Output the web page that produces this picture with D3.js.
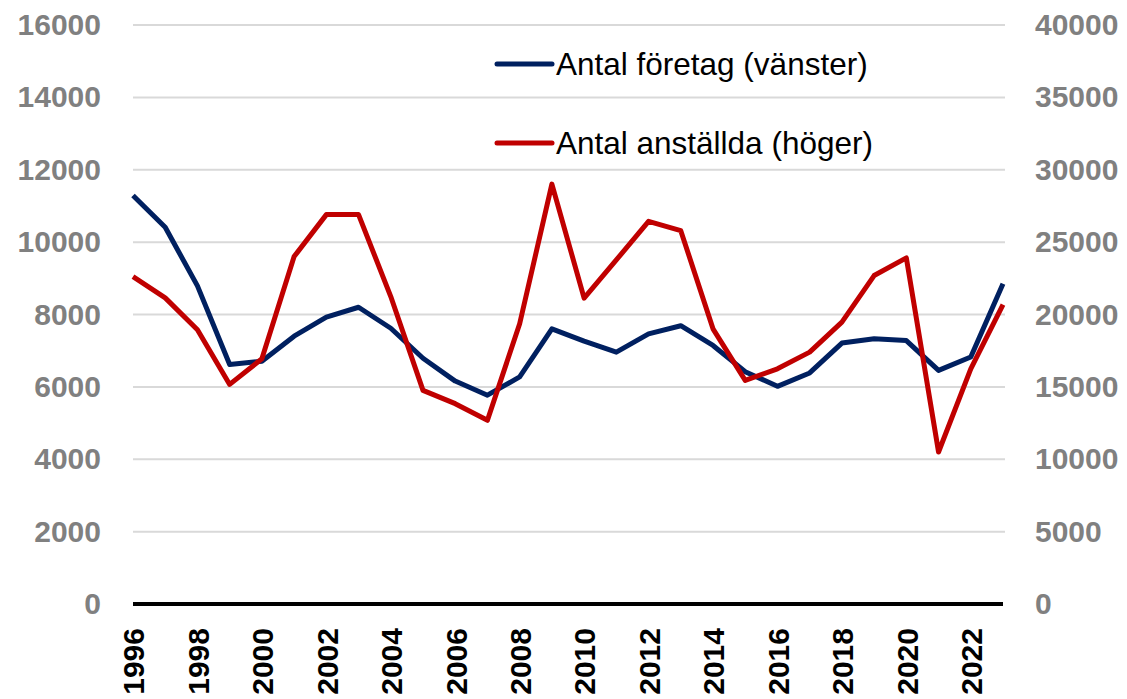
<!DOCTYPE html>
<html>
<head>
<meta charset="utf-8">
<script src="https://cdnjs.cloudflare.com/ajax/libs/d3/7.8.5/d3.min.js"></script>
<style>
  body { margin: 0; background: #fff; }
  text { font-family: "Liberation Sans", Arial, sans-serif; }
</style>
</head>
<body>
<div id="chart"></div>
<script>
var years = [1996, 1997, 1998, 1999, 2000, 2001, 2002, 2003, 2004, 2005, 2006, 2007, 2008, 2009,
    2010, 2011, 2012, 2013, 2014, 2015, 2016, 2017, 2018, 2019, 2020, 2021, 2022, 2023];
// Antal företag (vänster axel)
var companies = [11290, 10410, 8790, 6620, 6710, 7400, 7925, 8200, 7620, 6790, 6160, 5770, 6275, 7605,
    7265, 6960, 7465, 7690, 7145, 6420, 6015, 6385, 7210, 7330, 7280, 6455, 6825, 8850];
// Antal anställda (höger axel)
var employees = [22620, 21150, 18940, 15170, 16940, 24000, 26900, 26900, 21240, 14760, 13840, 12690, 19360, 29010,
    21130, 23770, 26440, 25790, 19010, 15450, 16250, 17400, 19470, 22690, 23910, 10500, 16250, 20690];
var leftTicks = [0, 2000, 4000, 6000, 8000, 10000, 12000, 14000, 16000];
var rightTicks = [0, 5000, 10000, 15000, 20000, 25000, 30000, 35000, 40000];
var yearTicks = years.filter(function(d) { return d % 2 === 0; });
var seriesNames = ["Antal företag (vänster)", "Antal anställda (höger)"];
var seriesColors = ["#002060", "#c00000"];

var w = 1127;
var h = 699;
var plotLeft = 133, plotRight = 1003, plotTop = 25, plotBottom = 604;

var svg = d3.select("#chart")
    .append("svg")
    .attr("width", w)
    .attr("height", h);

var xScale = d3.scalePoint().domain(years).range([plotLeft, plotRight]);
var yLeft = d3.scaleLinear().domain([0, 16000]).range([plotBottom, plotTop]);
var yRight = d3.scaleLinear().domain([0, 40000]).range([plotBottom, plotTop]);

// gridlines
svg.append("g")
    .selectAll("line")
    .data(leftTicks.slice(1))
    .enter().append("line")
    .attr("x1", plotLeft)
    .attr("x2", plotRight + 2)
    .attr("y1", function(d) { return yLeft(d); })
    .attr("y2", function(d) { return yLeft(d); })
    .attr("stroke", "#d9d9d9")
    .attr("stroke-width", 2);

function styleTicks(sel, color) {
    sel.selectAll("text")
        .attr("fill", color)
        .style("font-size", "30px")
        .style("font-weight", "bold")
        .style("font-family", "'Liberation Sans', Arial, sans-serif");
}

// left axis
var gl = svg.append("g")
    .attr("transform", "translate(101,0)")
    .call(d3.axisLeft(yLeft).tickValues(leftTicks).tickSize(0).tickPadding(0).tickFormat(d3.format("d")));
gl.select(".domain").remove();
styleTicks(gl, "#808080");

// right axis
var gr = svg.append("g")
    .attr("transform", "translate(1035,0)")
    .call(d3.axisRight(yRight).tickValues(rightTicks).tickSize(0).tickPadding(0).tickFormat(d3.format("d")));
gr.select(".domain").remove();
styleTicks(gr, "#808080");

// x axis
var gx = svg.append("g")
    .attr("transform", "translate(0," + plotBottom + ")")
    .call(d3.axisBottom(xScale).tickValues(yearTicks).tickSize(0));
gx.select(".domain").remove();
styleTicks(gx, "#000");
gx.selectAll("text")
    .attr("transform", "rotate(-90)")
    .attr("text-anchor", "end")
    .attr("x", -24)
    .attr("y", 0)
    .attr("dy", "0.36em");

svg.append("line")
    .attr("x1", plotLeft)
    .attr("x2", plotRight)
    .attr("y1", plotBottom)
    .attr("y2", plotBottom)
    .attr("stroke", "#000")
    .attr("stroke-width", 4);

// lines
var lineLeft = d3.line()
    .x(function(d, i) { return xScale(years[i]); })
    .y(function(d) { return yLeft(d); });
var lineRight = d3.line()
    .x(function(d, i) { return xScale(years[i]); })
    .y(function(d) { return yRight(d); });

svg.append("path")
    .datum(companies)
    .attr("d", lineLeft)
    .attr("fill", "none")
    .attr("stroke", seriesColors[0])
    .attr("stroke-width", 5)
    .attr("stroke-linejoin", "round");

svg.append("path")
    .datum(employees)
    .attr("d", lineRight)
    .attr("fill", "none")
    .attr("stroke", seriesColors[1])
    .attr("stroke-width", 5)
    .attr("stroke-linejoin", "round");

// legend
var legend = svg.selectAll(".legend")
    .data(seriesNames)
    .enter().append("g")
    .attr("class", "legend")
    .attr("transform", function(d, i) { return "translate(497," + (64 + i * 79) + ")"; });

legend.append("line")
    .attr("x1", 0)
    .attr("x2", 55)
    .attr("stroke", function(d, i) { return seriesColors[i]; })
    .attr("stroke-width", 5)
    .attr("stroke-linecap", "round");

legend.append("text")
    .attr("x", 59)
    .attr("y", 11)
    .style("font-size", "31.5px")
    .attr("fill", "#000")
    .text(function(d) { return d; });
</script>
</body>
</html>
